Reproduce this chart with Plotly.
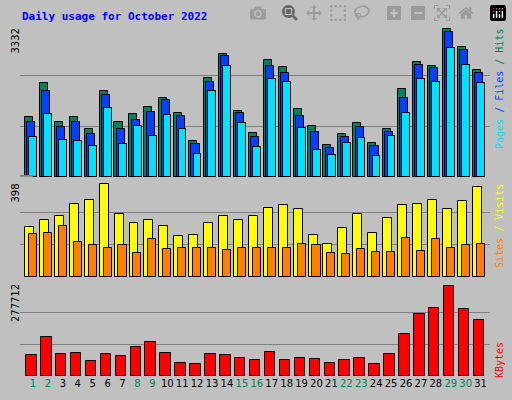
import plotly.graph_objects as go

days = list(range(1, 32))
weekend = [1, 2, 8, 9, 15, 16, 22, 23, 29, 30]

hits = [1309, 2054, 1199, 1309, 1046, 1879, 1199, 1374, 1528, 1725, 1396, 783, 2164, 2690, 1440, 958,
        2558, 2405, 1484, 1111, 695, 936, 1177, 739, 1046, 1922, 2514, 2427, 3238, 2843, 2339]
files = [1199, 1879, 1089, 1199, 936, 1791, 1046, 1243, 1418, 1681, 1331, 717, 2076, 2646, 1396, 870,
         2427, 2273, 1331, 980, 629, 870, 1089, 673, 980, 1725, 2448, 2383, 3172, 2777, 2273]
pages = [870, 1374, 804, 783, 673, 1506, 717, 1111, 892, 1352, 1046, 498, 1879, 2427, 1177, 651,
         2142, 2076, 1068, 585, 476, 739, 848, 454, 892, 1396, 2142, 2076, 2821, 2448, 2054]
visits = [204, 233, 249, 299, 316, 382, 258, 221, 233, 208, 167, 171, 221, 249, 233, 249,
          282, 295, 278, 171, 134, 200, 258, 179, 241, 295, 299, 316, 278, 311, 369]
sites = [175, 179, 208, 142, 130, 121, 130, 97, 154, 113, 117, 117, 117, 109, 117, 117,
         117, 121, 134, 130, 97, 93, 113, 101, 101, 159, 105, 154, 117, 130, 134]
kbytes = [62100, 113700, 65000, 67900, 42100, 65000, 59300, 85000, 99300, 67900, 36400, 33500,
          65000, 62100, 53500, 44900, 70700, 44900, 50700, 47800, 36400, 44900, 50700, 33500,
          65000, 122300, 179500, 196700, 261700, 193800, 162300]

MAX_HITS, MAX_VISITS, MAX_KB = 3332, 398, 277712

W, H = 512, 400
BG = "#c0c0c0"
outline = dict(color="black", width=1)


def py(y):
    return 1 - y / H


fig = go.Figure()


def bars(vals, off, width, color, xa, ya):
    fig.add_trace(go.Bar(x=[d + off for d in days], y=vals, width=width,
                         marker=dict(color=color, line=outline),
                         xaxis=xa, yaxis=ya, showlegend=False, hoverinfo="y"))


bars(hits, -0.27, 0.54, "#00805c", "x", "y")
bars(files, -0.11, 0.54, "#0040ff", "x", "y")
bars(pages, 0.02, 0.52, "#00e0ff", "x", "y")
bars(visits, -0.23, 0.6, "#ffff00", "x2", "y2")
bars(sites, 0.0, 0.54, "#ff8000", "x2", "y2")
bars(kbytes, -0.11, 0.7, "#ff0000", "x3", "y3")

xr = [0.129, 31.63]
xdom = [20 / W, 490 / W]
ticktext = [f"<span style='color:{'#00805c' if d in weekend else 'black'}'>{d}</span>" for d in days]
xcommon = dict(range=xr, domain=xdom, showgrid=False, zeroline=False, fixedrange=True)

fig.update_layout(
    width=W, height=H, margin=dict(l=0, r=0, t=0, b=0, pad=0),
    paper_bgcolor=BG, plot_bgcolor=BG, barmode="overlay", bargap=0,
    font=dict(family="DejaVu Sans", size=10, color="black"),
    xaxis=dict(**xcommon, anchor="y", showticklabels=False),
    xaxis2=dict(**xcommon, anchor="y2", showticklabels=False),
    xaxis3=dict(**xcommon, anchor="y3", tickmode="array", tickvals=days, ticktext=ticktext,
                tickfont=dict(size=10), ticks=""),
    yaxis=dict(range=[0, MAX_HITS], domain=[py(177), py(25)], showticklabels=False,
               gridcolor="#808080", tickvals=[MAX_HITS / 3, 2 * MAX_HITS / 3], zeroline=False),
    yaxis2=dict(range=[0, MAX_VISITS], domain=[py(277), py(180)], showticklabels=False,
                gridcolor="#808080", tickvals=[MAX_VISITS / 3, 2 * MAX_VISITS / 3], zeroline=False),
    yaxis3=dict(range=[0, MAX_KB], domain=[py(376), py(280)], showticklabels=False,
                gridcolor="#808080", tickvals=[MAX_KB / 3, 2 * MAX_KB / 3], zeroline=False),
)

shapes = []
# outer frame
shapes.append(dict(type="rect", x0=0, x1=1, y0=0, y1=1, line=dict(color="black", width=1)))
shapes.append(dict(type="line", x0=2 / W, x1=508 / W, y0=py(3), y1=py(3), line=dict(color="white", width=2)))
shapes.append(dict(type="line", x0=2 / W, x1=2 / W, y0=py(3), y1=py(396), line=dict(color="white", width=2)))
shapes.append(dict(type="line", x0=4 / W, x1=509 / W, y0=py(397), y1=py(397), line=dict(color="#808080", width=4)))
shapes.append(dict(type="line", x0=509 / W, x1=509 / W, y0=py(4), y1=py(399), line=dict(color="#808080", width=4)))
# panel borders
for top, bot in [(25, 177), (180, 277), (280, 376)]:
    x0, x1 = 20 / W, 490 / W
    shapes.append(dict(type="line", x0=x0, x1=x1, y0=py(top), y1=py(top), line=dict(color="black", width=1)))
    shapes.append(dict(type="line", x0=x0, x1=x0, y0=py(top), y1=py(bot), line=dict(color="black", width=1)))
    shapes.append(dict(type="line", x0=x0, x1=x1, y0=py(bot), y1=py(bot), line=dict(color="black", width=1)))
    shapes.append(dict(type="line", x0=x1, x1=x1, y0=py(top), y1=py(bot + 1), line=dict(color="black", width=1)))
    shapes.append(dict(type="line", x0=x0, x1=x1 + 2 / W, y0=py(bot + 1.5), y1=py(bot + 1.5), line=dict(color="white", width=1)))
    shapes.append(dict(type="line", x0=x1 + 1.5 / W, x1=x1 + 1.5 / W, y0=py(top), y1=py(bot + 1.5), line=dict(color="white", width=1)))
fig.update_layout(shapes=shapes)

mono = "DejaVu Sans Mono"
ann = [
    dict(x=20 / W, y=py(8), text="<b>Daily usage for October 2022</b>", xanchor="left", yanchor="top",
         font=dict(family=mono, size=11, color="#0000ff")),
    dict(x=15 / W, y=py(27), text=f"{MAX_HITS}", textangle=-90, xanchor="center", yanchor="top",
         font=dict(size=10)),
    dict(x=15 / W, y=py(182), text=f"{MAX_VISITS}", textangle=-90, xanchor="center", yanchor="top",
         font=dict(size=10)),
    dict(x=15 / W, y=py(282), text=f"{MAX_KB}", textangle=-90, xanchor="center", yanchor="top",
         font=dict(size=10)),
    dict(x=499 / W, y=py(27), textangle=-90, xanchor="center", yanchor="top",
         text="<span style='color:#00e0ff'>Pages</span><span style='color:#0040ff'> / Files</span>"
              "<span style='color:#00805c'> / Hits</span>",
         font=dict(family=mono, size=10)),
    dict(x=499 / W, y=py(182), textangle=-90, xanchor="center", yanchor="top",
         text="<span style='color:#ff8000'>Sites</span><span style='color:#ffff00'> / Visits</span>",
         font=dict(family=mono, size=10)),
    dict(x=499 / W, y=py(340), textangle=-90, xanchor="center", yanchor="top",
         text="<span style='color:#ff0000'>KBytes</span>", font=dict(family=mono, size=10)),
]
for a in ann:
    a.update(xref="paper", yref="paper", showarrow=False)
fig.update_layout(annotations=ann)

fig.write_html("out.html",
               post_script="document.body.style.margin='0';document.body.style.overflow='hidden';")
